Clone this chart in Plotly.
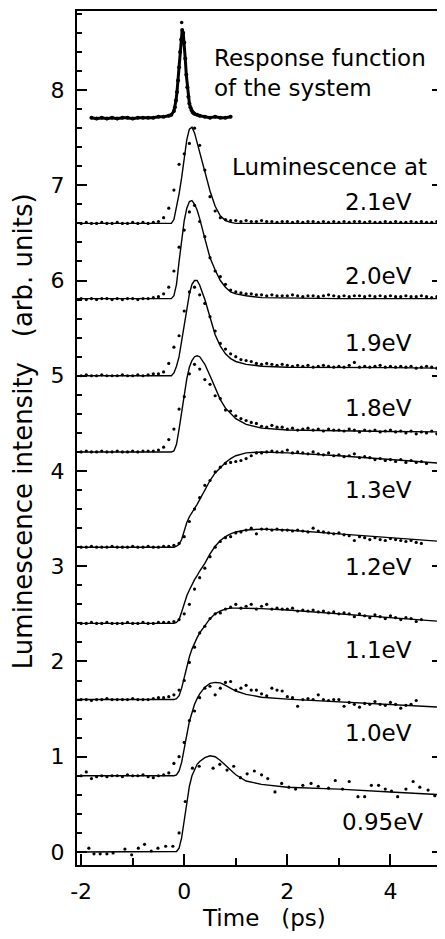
import plotly.graph_objects as go

FONT = "DejaVu Sans"

# ---------------- data ----------------
# time grid of the measured points (ps)
T = [-2.0, -1.9, -1.8, -1.7, -1.6, -1.5, -1.4, -1.3, -1.2, -1.1,
     -1.0, -0.9, -0.8, -0.7, -0.6, -0.5, -0.4, -0.3, -0.2, -0.1,
     0.0, 0.1, 0.2, 0.3, 0.4, 0.5, 0.6, 0.7, 0.8, 0.9,
     1.0, 1.1, 1.2, 1.3, 1.4, 1.5, 1.6, 1.7, 1.8, 1.9,
     2.0, 2.1, 2.2, 2.3, 2.4, 2.5, 2.6, 2.7, 2.8, 2.9,
     3.0, 3.1, 3.2, 3.3, 3.4, 3.5, 3.6, 3.7, 3.8, 3.9,
     4.0, 4.1, 4.2, 4.3, 4.4, 4.5, 4.6, 4.7, 4.8, 4.9,
     5.0]

DOTS_21 = [6.60, 6.61, 6.60, 6.60, 6.61, 6.60, 6.60, 6.61, 6.60, 6.60,
           6.61, 6.60, 6.61, 6.60, 6.61, 6.62, 6.66, 6.76, 6.95, 7.22,
           7.33, 7.44, 7.60, 7.42, 7.16, 6.88, 6.73, 6.66, 6.64, 6.63,
           6.63, 6.62, 6.63, 6.62, 6.62, 6.63, 6.62, 6.62, 6.61, 6.62,
           6.62, 6.61, 6.62, 6.61, 6.62, 6.62, 6.61, 6.62, 6.61, 6.62,
           6.61, 6.62, 6.61, 6.62, 6.62, 6.61, 6.62, 6.61, 6.61, 6.62,
           6.61, 6.62, 6.61, 6.61, 6.62, 6.61, 6.62, 6.61, 6.61, 6.62,
           6.61]
DOTS_20 = [5.81, 5.80, 5.81, 5.80, 5.81, 5.81, 5.80, 5.81, 5.80, 5.81,
           5.81, 5.80, 5.81, 5.81, 5.82, 5.83, 5.86, 5.93, 6.10, 6.35,
           6.53, 6.72, 6.79, 6.62, 6.46, 6.24, 6.10, 6.04, 5.96, 5.90,
           5.88, 5.87, 5.86, 5.86, 5.85, 5.85, 5.84, 5.85, 5.84, 5.84,
           5.84, 5.85, 5.84, 5.83, 5.84, 5.84, 5.83, 5.84, 5.85, 5.84,
           5.83, 5.84, 5.83, 5.84, 5.84, 5.83, 5.84, 5.83, 5.84, 5.83,
           5.84, 5.83, 5.83, 5.84, 5.83, 5.83, 5.84, 5.83, 5.82, 5.83,
           5.83]
DOTS_19 = [5.00, 5.01, 5.00, 5.00, 5.01, 5.00, 5.00, 5.00, 5.01, 5.00,
           5.00, 5.01, 5.00, 5.01, 5.02, 5.02, 5.04, 5.13, 5.30, 5.42,
           5.68, 5.88, 5.93, 5.85, 5.76, 5.62, 5.47, 5.34, 5.28, 5.23,
           5.20, 5.17, 5.16, 5.15, 5.13, 5.12, 5.13, 5.12, 5.11, 5.12,
           5.11, 5.10, 5.11, 5.10, 5.11, 5.09, 5.10, 5.11, 5.10, 5.09,
           5.10, 5.09, 5.11, 5.14, 5.09, 5.10, 5.09, 5.10, 5.11, 5.09,
           5.10, 5.09, 5.10, 5.09, 5.10, 5.08, 5.09, 5.10, 5.09, 5.08,
           5.09]
DOTS_18 = [4.20, 4.21, 4.20, 4.20, 4.21, 4.20, 4.20, 4.21, 4.20, 4.20,
           4.21, 4.20, 4.21, 4.21, 4.21, 4.22, 4.25, 4.33, 4.44, 4.65,
           4.78, 5.02, 5.12, 5.07, 4.96, 4.91, 4.79, 4.76, 4.64, 4.63,
           4.58, 4.55, 4.53, 4.51, 4.50, 4.47, 4.46, 4.48, 4.46, 4.46,
           4.44, 4.45, 4.43, 4.44, 4.45, 4.43, 4.44, 4.42, 4.44, 4.43,
           4.43, 4.42, 4.44, 4.43, 4.41, 4.43, 4.42, 4.43, 4.41, 4.42,
           4.43, 4.41, 4.42, 4.40, 4.42, 4.39, 4.41, 4.40, 4.42, 4.39,
           4.40]
DOTS_13 = [3.20, 3.20, 3.21, 3.20, 3.20, 3.20, 3.21, 3.20, 3.20, 3.20,
           3.21, 3.20, 3.20, 3.21, 3.20, 3.20, 3.21, 3.21, 3.22, 3.24,
           3.31, 3.47, 3.60, 3.72, 3.85, 3.90, 3.99, 4.04, 4.08, 4.09,
           4.10, 4.11, 4.13, 4.16, 4.19, 4.19, 4.20, 4.21, 4.20, 4.20,
           4.22, 4.19, 4.20, 4.19, 4.18, 4.20, 4.18, 4.17, 4.19, 4.16,
           4.17, 4.15, 4.16, 4.18, 4.14, 4.15, 4.14, 4.12, 4.13, 4.11,
           4.12, 4.10, 4.12, 4.09, 4.11, 4.09, 4.10, 4.08, None, None,
           None]
DOTS_12 = [2.40, 2.40, 2.41, 2.40, 2.40, 2.41, 2.40, 2.40, 2.40, 2.41,
           2.40, 2.40, 2.41, 2.40, 2.40, 2.41, 2.41, 2.41, 2.42, 2.44,
           2.50, 2.60, 2.76, 2.88, 2.98, 3.10, 3.20, 3.26, 3.30, 3.31,
           3.35, 3.36, 3.38, 3.40, 3.34, 3.39, 3.39, 3.38, 3.39, 3.38,
           3.38, 3.37, 3.38, 3.37, 3.36, 3.40, 3.37, 3.36, 3.35, 3.34,
           3.35, 3.33, 3.32, 3.27, 3.31, 3.30, 3.28, 3.30, 3.28, 3.27,
           3.29, 3.28, 3.27, 3.26, 3.27, 3.25, 3.24, None, None, None,
           None]
DOTS_11 = [1.60, 1.60, 1.59, 1.60, 1.60, 1.61, 1.60, 1.60, 1.60, 1.60,
           1.61, 1.60, 1.60, 1.60, 1.61, 1.62, 1.62, 1.63, 1.65, 1.70,
           1.80, 1.99, 2.15, 2.30, 2.37, 2.45, 2.50, 2.51, 2.55, 2.57,
           2.60, 2.56, 2.58, 2.60, 2.55, 2.58, 2.60, 2.55, 2.56, 2.55,
           2.55, 2.56, 2.53, 2.54, 2.53, 2.54, 2.52, 2.53, 2.51, 2.52,
           2.50, 2.51, 2.50, 2.47, 2.50, 2.48, 2.46, 2.49, 2.47, 2.45,
           2.48, 2.46, 2.44, 2.46, 2.45, 2.42, 2.44, None, None, None,
           None]
DOTS_10 = [0.80, 0.84, 0.77, 0.79, 0.80, 0.79, 0.80, 0.80, 0.79, 0.81,
           0.80, 0.80, 0.81, 0.79, 0.78, 0.80, 0.81, 0.83, 0.93, 1.00,
           1.15, 1.38, 1.48, 1.62, 1.72, 1.74, 1.65, 1.72, 1.78, 1.79,
           1.70, 1.72, 1.75, 1.70, 1.70, 1.66, 1.64, 1.72, 1.70, 1.69,
           1.63, 1.62, 1.53, 1.60, 1.61, 1.60, 1.65, 1.60, 1.59, 1.60,
           1.60, 1.53, 1.57, 1.55, 1.52, 1.56, 1.55, 1.58, 1.55, 1.54,
           1.57, 1.55, 1.51, 1.54, 1.55, 1.59, None, None, None, None,
           None]

# 0.95 eV points (sparser sampling)
T_095 = [-1.85, -1.75, -1.63, -1.5, -1.38, -1.15, -1.02, -0.89, -0.77, -0.64,
         -0.51, -0.36, -0.22, -0.1, 0.02, 0.16, 0.29, 0.56, 0.69, 0.83,
         0.96, 1.09, 1.22, 1.36, 1.5, 1.62, 1.76, 1.89, 2.03, 2.16,
         2.3, 2.46, 2.6, 2.8, 2.93, 3.07, 3.2, 3.37, 3.5, 3.63,
         3.77, 3.9, 4.02, 4.14, 4.3, 4.44, 4.57, 4.73, 4.86, 4.96]
DOTS_095 = [0.04, -0.02, -0.02, -0.02, -0.01, 0.03, -0.03, 0.04, 0.08, 0.01,
            0.04, 0.06, 0.06, 0.20, 0.53, 0.88, 0.90, 0.88, 0.92, 0.86,
            0.90, 0.78, 0.82, 0.85, 0.81, 0.77, 0.63, 0.72, 0.68, 0.66,
            0.70, 0.72, 0.69, 0.67, 0.75, 0.66, 0.74, 0.58, 0.58, 0.70,
            0.70, 0.66, 0.64, 0.58, 0.66, 0.74, 0.68, 0.65, 0.59, 0.61]

# fitted curves
FIT_T = [-2.1, -0.25, -0.2, -0.15, -0.1, -0.05, 0.0, 0.05, 0.1, 0.15,
         0.2, 0.25, 0.3, 0.4, 0.5, 0.6, 0.7, 0.8, 0.9, 1.0,
         1.2, 1.5, 2.0, 3.0, 4.0, 5.0]
FIT_21 = [6.60, 6.60, 6.64, 6.76, 6.91, 7.08, 7.27, 7.48, 7.59, 7.61,
          7.55, 7.45, 7.35, 7.14, 6.94, 6.78, 6.68, 6.63, 6.61, 6.60,
          6.60, 6.60, 6.60, 6.60, 6.60, 6.60]
FIT_20 = [5.81, 5.81, 5.84, 5.96, 6.20, 6.45, 6.63, 6.76, 6.83, 6.84,
          6.80, 6.74, 6.65, 6.44, 6.24, 6.11, 6.00, 5.93, 5.88, 5.86,
          5.84, 5.82, 5.815, 5.81, 5.81, 5.81]
FIT_19 = [5.00, 5.00, 5.03, 5.10, 5.20, 5.37, 5.55, 5.72, 5.86, 5.96,
          6.00, 6.00, 5.95, 5.80, 5.60, 5.43, 5.31, 5.23, 5.18, 5.15,
          5.12, 5.10, 5.09, 5.09, 5.085, 5.08]
FIT_18 = [4.20, 4.20, 4.21, 4.28, 4.44, 4.61, 4.80, 4.97, 5.09, 5.16,
          5.20, 5.21, 5.20, 5.12, 5.00, 4.87, 4.75, 4.66, 4.60, 4.55,
          4.49, 4.45, 4.43, 4.42, 4.415, 4.41]
FIT_13 = [3.20, 3.20, 3.20, 3.21, 3.23, 3.28, 3.37, 3.46, 3.52, 3.56,
          3.60, 3.65, 3.70, 3.80, 3.90, 3.98, 4.04, 4.09, 4.13, 4.16,
          4.19, 4.20, 4.19, 4.16, 4.12, 4.08]
FIT_12 = [2.40, 2.40, 2.40, 2.41, 2.44, 2.52, 2.62, 2.69, 2.75, 2.81,
          2.86, 2.90, 2.95, 3.03, 3.13, 3.21, 3.27, 3.31, 3.34, 3.36,
          3.38, 3.39, 3.38, 3.34, 3.30, 3.26]
FIT_11 = [1.60, 1.60, 1.60, 1.61, 1.64, 1.72, 1.83, 1.95, 2.05, 2.13,
          2.20, 2.25, 2.30, 2.38, 2.45, 2.50, 2.53, 2.55, 2.56, 2.56,
          2.56, 2.555, 2.54, 2.50, 2.46, 2.42]
FIT_10 = [0.80, 0.80, 0.80, 0.81, 0.85, 0.94, 1.07, 1.23, 1.37, 1.47,
          1.55, 1.61, 1.66, 1.73, 1.77, 1.78, 1.775, 1.75, 1.72, 1.69,
          1.655, 1.625, 1.605, 1.575, 1.545, 1.52]
FIT_095 = [0.00, 0.00, 0.00, 0.005, 0.04, 0.15, 0.33, 0.53, 0.69, 0.80,
           0.87, 0.92, 0.95, 0.99, 1.01, 1.00, 0.96, 0.91, 0.86, 0.81,
           0.745, 0.71, 0.68, 0.66, 0.63, 0.60]

# response function of the system
RESP_T = [-1.8, -1.7, -1.6, -1.5, -1.4, -1.3, -1.2, -1.1, -1.0, -0.9,
          -0.8, -0.7, -0.6, -0.5, -0.4, -0.3, -0.25, -0.2, -0.18, -0.16,
          -0.14, -0.12, -0.1, -0.08, -0.06, -0.04, -0.02, 0.0, 0.02, 0.04,
          0.06, 0.08, 0.1, 0.12, 0.14, 0.16, 0.18, 0.2, 0.25, 0.3,
          0.4, 0.5, 0.6, 0.7, 0.8, 0.9]
RESP_Y = [7.71, 7.70, 7.71, 7.70, 7.71, 7.70, 7.71, 7.71, 7.70, 7.71,
          7.71, 7.71, 7.71, 7.72, 7.72, 7.73, 7.74, 7.78, 7.82, 7.89,
          7.98, 8.10, 8.24, 8.40, 8.53, 8.63, 8.60, 8.50, 8.33, 8.16,
          8.03, 7.93, 7.86, 7.82, 7.79, 7.77, 7.76, 7.75, 7.74, 7.73,
          7.72, 7.71, 7.72, 7.71, 7.71, 7.72]
RESP_EXTRA_T = [-0.05]
RESP_EXTRA_Y = [8.71]

LABELS = ["2.1eV", "2.0eV", "1.9eV", "1.8eV", "1.3eV", "1.2eV", "1.1eV", "1.0eV", "0.95eV"]
LABEL_X = [4.46, 4.46, 4.46, 4.46, 4.46, 4.46, 4.46, 4.46, 4.67]
LABEL_Y = [6.82, 6.05, 5.34, 4.66, 3.80, 2.99, 2.12, 1.25, 0.31]

Y_TICKS = [0, 1, 2, 3, 4, 5, 6, 7, 8]
X_TICKS = [-2, 0, 2, 4]
X_TICK_LABELS = ["-2", "0", "2", "4"]
X_MINOR = [-1, 1, 3]

# ---------------- figure ----------------
fig = go.Figure()

fits = [FIT_21, FIT_20, FIT_19, FIT_18, FIT_13, FIT_12, FIT_11, FIT_10, FIT_095]
for ys in fits:
    fig.add_trace(go.Scatter(x=FIT_T, y=ys, mode="lines",
                             line=dict(color="black", width=1.4),
                             hoverinfo="skip", showlegend=False))

dots = [DOTS_21, DOTS_20, DOTS_19, DOTS_18, DOTS_13, DOTS_12, DOTS_11, DOTS_10]
for ys in dots:
    fig.add_trace(go.Scatter(x=T, y=ys, mode="markers",
                             marker=dict(color="black", size=3.2),
                             showlegend=False))
fig.add_trace(go.Scatter(x=T_095, y=DOTS_095, mode="markers",
                         marker=dict(color="black", size=3.2), showlegend=False))

fig.add_trace(go.Scatter(x=RESP_T, y=RESP_Y, mode="lines+markers",
                         line=dict(color="black", width=3),
                         marker=dict(color="black", size=4), showlegend=False))
fig.add_trace(go.Scatter(x=RESP_EXTRA_T, y=RESP_EXTRA_Y, mode="markers",
                         marker=dict(color="black", size=3.5), showlegend=False))

annotations = []
for txt, lx, ly in zip(LABELS, LABEL_X, LABEL_Y):
    annotations.append(dict(x=lx, y=ly, xref="x", yref="y", text=txt,
                            showarrow=False, xanchor="right", yanchor="middle",
                            font=dict(size=23, family=FONT, color="black")))
annotations.append(dict(x=4.75, y=7.19, xref="x", yref="y", text="Luminescence at",
                        showarrow=False, xanchor="right", yanchor="middle",
                        font=dict(size=23, family=FONT, color="black")))
annotations.append(dict(x=0.54, y=8.34, xref="x", yref="y", text="Response function",
                        showarrow=False, xanchor="left", yanchor="middle",
                        font=dict(size=23, family=FONT, color="black")))
annotations.append(dict(x=0.54, y=8.02, xref="x", yref="y", text="of the system",
                        showarrow=False, xanchor="left", yanchor="middle",
                        font=dict(size=23, family=FONT, color="black")))
# axis titles
annotations.append(dict(x=0.512, y=0, xref="paper", yref="paper",
                        text="Time\u00a0\u00a0\u00a0(ps)", showarrow=False,
                        xanchor="center", yanchor="middle", yshift=-53,
                        font=dict(size=23, family=FONT, color="black")))
annotations.append(dict(x=0, y=0.508, xref="paper", yref="paper",
                        text="Luminescence intensity\u00a0\u00a0\u00a0(arb. units)",
                        showarrow=False, textangle=-90,
                        xanchor="center", yanchor="middle", xshift=-54,
                        font=dict(size=26, family=FONT, color="black")))

# page body has an 8px margin: size the figure so it fits the 445x939 window
fig.update_layout(
    width=437, height=923,
    margin=dict(l=69, r=1, t=2, b=66),
    plot_bgcolor="white", paper_bgcolor="white",
    showlegend=False,
    font=dict(family=FONT, color="black", size=22),
    annotations=annotations,
)
fig.update_xaxes(
    range=[-2.08, 5.0], tickmode="array", tickvals=X_TICKS, ticktext=X_TICK_LABELS,
    ticks="inside", ticklen=11, tickwidth=2, tickcolor="black",
    showline=True, linewidth=2, linecolor="black", mirror=True,
    showgrid=False, zeroline=False,
    tickfont=dict(size=22, family=FONT, color="black"),
    ticklabelstandoff=6,
    minor=dict(tickmode="array", tickvals=X_MINOR, ticks="inside", ticklen=7,
               tickwidth=2, tickcolor="black", showgrid=False),
)
fig.update_yaxes(
    range=[-0.137, 8.83], tickmode="array", tickvals=Y_TICKS,
    ticks="inside", ticklen=10, tickwidth=2, tickcolor="black",
    showline=True, linewidth=2, linecolor="black", mirror="ticks",
    showgrid=False, zeroline=False,
    tickfont=dict(size=22, family=FONT, color="black"),
    ticklabelstandoff=6,
    minor=dict(dtick=0.2, ticks="inside", ticklen=5, tickwidth=1.5,
               tickcolor="black", showgrid=False),
)

fig.write_html("out.html")
